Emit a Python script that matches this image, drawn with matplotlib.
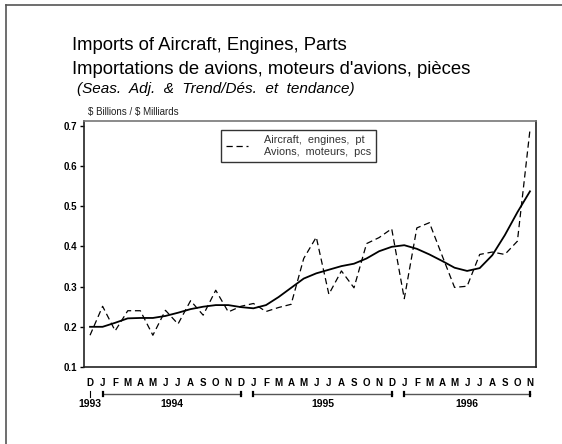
import matplotlib
matplotlib.use("Agg")
import matplotlib.pyplot as plt
import matplotlib.transforms as mtransforms
from matplotlib.lines import Line2D

plt.rcParams['font.family'] = ['Liberation Sans', 'DejaVu Sans']

months = ["D", "J", "F", "M", "A", "M", "J", "J", "A", "S", "O", "N",
          "D", "J", "F", "M", "A", "M", "J", "J", "A", "S", "O", "N",
          "D", "J", "F", "M", "A", "M", "J", "J", "A", "S", "O", "N"]
seas_adj = [0.179, 0.251, 0.190, 0.240, 0.240, 0.179, 0.241, 0.207, 0.265, 0.229, 0.291, 0.237,
            0.251, 0.258, 0.238, 0.248, 0.256, 0.370, 0.423, 0.281, 0.339, 0.297, 0.407, 0.422,
            0.444, 0.270, 0.446, 0.459, 0.378, 0.298, 0.301, 0.380, 0.386, 0.380, 0.413, 0.690]
trend = [0.200, 0.200, 0.210, 0.221, 0.222, 0.222, 0.227, 0.235, 0.244, 0.250, 0.254, 0.254,
         0.249, 0.246, 0.254, 0.274, 0.297, 0.320, 0.333, 0.342, 0.351, 0.357, 0.370, 0.388,
         0.399, 0.403, 0.394, 0.380, 0.364, 0.347, 0.339, 0.346, 0.378, 0.428, 0.485, 0.537]
years = ["1993", "1994", "1995", "1996"]
year_spans = [(0, 0), (1, 12), (13, 24), (25, 35)]
yticks = [0.1, 0.2, 0.3, 0.4, 0.5, 0.6, 0.7]
legend_label = "Aircraft,  engines,  pt\nAvions,  moteurs,  pcs"

W, H = 562, 444
fig = plt.figure(figsize=(W / 100, H / 100), dpi=100)

def fx(px):
    return px / W

def fy(py):
    return 1 - py / H

ax = fig.add_axes([fx(84), fy(367), fx(536) - fx(84), fy(121) - fy(367)])
x = list(range(len(months)))
ax.plot(x, seas_adj, color='black', lw=0.9, linestyle=(0, (5, 3)), label=legend_label)
ax.plot(x, trend, color='black', lw=1.3)
ax.set_xlim(-0.48, 35.48)
ax.set_ylim(0.1, 0.712)
ax.set_yticks(yticks)
ax.set_yticklabels([f"{v:.1f}" for v in yticks], fontsize=7, fontweight='bold')
ax.set_xticks(x)
ax.set_xticklabels(months, fontsize=7, fontweight='bold')
ax.tick_params(axis='x', length=0, pad=8)
ax.tick_params(axis='y', length=3, width=1, pad=2)
for s in ['left', 'bottom', 'right']:
    ax.spines[s].set_linewidth(1.2)
    ax.spines[s].set_color('#222222')
ax.spines['top'].set_linewidth(1.2)
ax.spines['top'].set_color('#777777')

leg = ax.legend(loc='upper left', bbox_to_anchor=((221 - 84) / 452, (367 - 130) / 246),
                fontsize=7.8, frameon=True, fancybox=False, handlelength=2.0,
                borderpad=0.45, handletextpad=1.5, borderaxespad=0)
leg.get_frame().set_edgecolor('black')
leg.get_frame().set_linewidth(1.0)
for t in leg.get_texts():
    t.set_color('#333333')
    t.set_linespacing(1.3)

# year bars
trans = mtransforms.blended_transform_factory(ax.transData, ax.transAxes)
ybar = (367 - 394) / 246
ylab = (367 - 404) / 246
for yr, (a, b) in zip(years, year_spans):
    if a == b:
        ax.plot([a, a], [ybar - 0.012, ybar + 0.012], color='black', lw=0.8,
                transform=trans, clip_on=False)
    else:
        ax.plot([a, b], [ybar, ybar], color='#555555', lw=1.0, transform=trans, clip_on=False)
        for e in (a, b):
            ax.plot([e, e], [ybar - 0.01, ybar + 0.01], color='black', lw=1.6,
                    transform=trans, clip_on=False)
    ax.text((a + b) / 2, ylab, yr, transform=trans, ha='center', va='center',
            fontsize=7.5, fontweight='bold')

# titles
fig.text(fx(72), fy(45), "Imports of Aircraft, Engines, Parts", fontsize=13.3, va='center', ha='left')
fig.text(fx(72), fy(69), "Importations de avions, moteurs d'avions, pièces", fontsize=13.3,
         va='center', ha='left')
fig.text(fx(77), fy(89), "(Seas.  Adj.  &  Trend/Dés.  et  tendance)", fontsize=11,
         style='italic', va='center', ha='left')
fig.text(fx(88), fy(112), r"\$ Billions / \$ Milliards", fontsize=7, va='center', ha='left',
         color='#222222')

# partial page border (top and left)
fig.add_artist(Line2D([fx(6.5), 1.0], [fy(5.5), fy(5.5)], color='#555555', lw=1.2))
fig.add_artist(Line2D([fx(6.5), fx(6.5)], [fy(5.5), 0.0], color='#555555', lw=1.2))

fig.savefig("out.png", dpi=100)
